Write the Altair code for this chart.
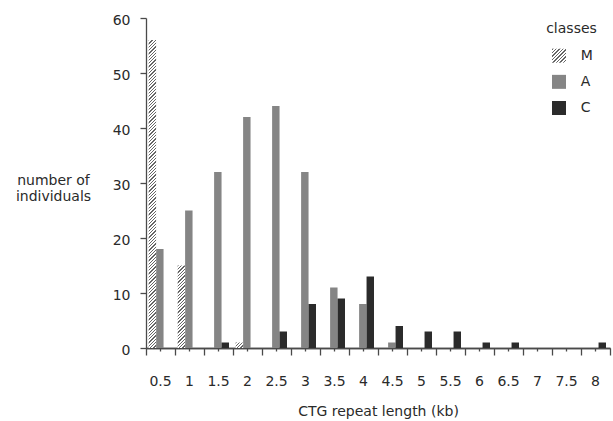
import altair as alt
import pandas as pd

# ---- data ----
lengths = ["0.5", "1", "1.5", "2", "2.5", "3", "3.5", "4",
           "4.5", "5", "5.5", "6", "6.5", "7", "7.5", "8"]
classes = ["M", "A", "C"]
m_counts = [56, 15, 0, 1, 0, 0, 0, 0, 0, 0, 0, 0, 0, 0, 0, 0]
a_counts = [18, 25, 32, 42, 44, 32, 11, 8, 1, 0, 0, 0, 0, 0, 0, 0]
c_counts = [0, 0, 1, 0, 3, 8, 9, 13, 4, 3, 3, 1, 1, 0, 0, 1]
y_ticks = [0, 10, 20, 30, 40, 50, 60]
y_title = ["number of", "individuals"]
x_title = "CTG repeat length (kb)"
legend_title = "classes"

rows = []
for cls, counts in zip(classes, [m_counts, a_counts, c_counts]):
    for L, v in zip(lengths, counts):
        rows.append({"length": L, "cls": cls, "count": v})
df = pd.DataFrame(rows)
legend_df = pd.DataFrame({"cls": classes, "idx": list(range(len(classes)))})
title_df = pd.DataFrame({"t": [legend_title]})

# ---- layout / style ----
W, H = 464, 330
Y_MAX = 60
FONT = "DejaVu Sans"
TEXT = "#2a2a2a"
AXIS = "#4a4a4a"
PAD_OUTER = 0.45
bar_w = (W / len(lengths)) / (len(classes) + 2 * PAD_OUTER)
fill_range = ["#ffffff", "#858585", "#2b2b2b"]


def hatch(w, h, period=3.3, duty=0.4, ink="#666666", paper="#ffffff"):
    """Diagonal '/' stripes as a hard-stop linear gradient for a w x h box."""
    n = max(1, round((w + h) / period))
    s = (w + h) / (h + w * w / h)
    stops = []
    for k in range(n):
        a, b, c = k / n, (k + duty) / n, (k + 1) / n
        stops += [alt.GradientStop(color=ink, offset=a),
                  alt.GradientStop(color=ink, offset=b),
                  alt.GradientStop(color=paper, offset=b),
                  alt.GradientStop(color=paper, offset=c)]
    return alt.LinearGradient(gradient="linear", stops=stops,
                              x1=0, y1=0, x2=s * w / h, y2=s)


x_scale = alt.Scale(domain=lengths, paddingInner=0, paddingOuter=0)
xo_scale = alt.Scale(domain=classes, paddingInner=0, paddingOuter=PAD_OUTER, align=0.4)
y_scale = alt.Scale(domain=[0, Y_MAX], nice=False, zero=True)
fill_scale = alt.Scale(domain=classes, range=fill_range)
leg_scale = alt.Scale(domain=[0, len(classes) - 1], range=[37.7, 90])

x_label_axis = alt.Axis(orient="bottom", title=x_title, tickBand="center", tickSize=3,
                        labelPadding=23, titleY=67, titleBaseline="alphabetic", labelAngle=0)
x_edge_axis = alt.Axis(orient="bottom", title=None, labels=False, tickBand="extent", tickSize=7)
y_axis = alt.Axis(values=y_ticks, tickSize=6, labelPadding=10, labelOffset=2,
                  title=y_title, titleAngle=0, titleX=-93, titleY=155,
                  titleAlign="center", titleBaseline="top", titleLineHeight=16)

ac_bars = alt.Chart(df[df["cls"] != "M"]).mark_bar().encode(
    x=alt.X("length:N", scale=x_scale, sort=lengths, axis=x_label_axis),
    xOffset=alt.XOffset("cls:N", scale=xo_scale, sort=classes),
    y=alt.Y("count:Q", scale=y_scale, axis=y_axis),
    fill=alt.Fill("cls:N", scale=fill_scale, legend=None),
)

layers = [ac_bars]
first = True
for L, v in zip(lengths, m_counts):
    if v <= 0:
        continue
    h = v * H / Y_MAX
    sub = df[(df["cls"] == "M") & (df["length"] == L)]
    layers.append(alt.Chart(sub).mark_bar(fill=hatch(bar_w, h)).encode(
        x=alt.X("length:N", scale=x_scale, sort=lengths,
                axis=x_edge_axis if first else None),
        xOffset=alt.XOffset("cls:N", scale=xo_scale, sort=classes),
        y=alt.Y("count:Q", scale=y_scale, axis=None),
    ))
    first = False

leg_sq = alt.Chart(legend_df[legend_df["cls"] != "M"]).mark_square(size=196, opacity=1).encode(
    x=alt.value(413),
    y=alt.Y("idx:Q", scale=leg_scale, axis=None),
    fill=alt.Fill("cls:N", scale=fill_scale, legend=None),
)
leg_m = alt.Chart(legend_df[legend_df["cls"] == "M"]).mark_square(
    size=196, opacity=1, fill=hatch(14, 14, period=3.3)).encode(
    x=alt.value(413),
    y=alt.Y("idx:Q", scale=leg_scale, axis=None),
)
leg_txt = alt.Chart(legend_df).mark_text(
    align="left", baseline="middle", font=FONT, fontSize=14, color=TEXT).encode(
    x=alt.value(434.7),
    y=alt.Y("idx:Q", scale=leg_scale, axis=None),
    text="cls:N",
)
leg_title = alt.Chart(title_df).mark_text(
    align="center", baseline="alphabetic", font=FONT, fontSize=14, color=TEXT).encode(
    x=alt.value(425.5), y=alt.value(15), text="t:N")

layers += [leg_sq, leg_m, leg_txt, leg_title]

chart = alt.layer(*layers).resolve_axis(x="independent").resolve_scale(
    y="independent"
).properties(
    width=W, height=H,
    padding={"left": 146, "top": 18, "right": 3, "bottom": 73},
    autosize=alt.AutoSizeParams(type="none"),
    background="white",
).configure_view(stroke=None).configure_axis(
    domainColor=AXIS, tickColor=AXIS, domainWidth=1.3, tickWidth=1.3,
    labelFont=FONT, labelFontSize=14, labelColor=TEXT,
    titleFont=FONT, titleFontSize=14, titleColor=TEXT, titleFontWeight="normal",
    grid=False,
)

chart.save("out.html", embed_options={"renderer": "svg", "actions": False})
